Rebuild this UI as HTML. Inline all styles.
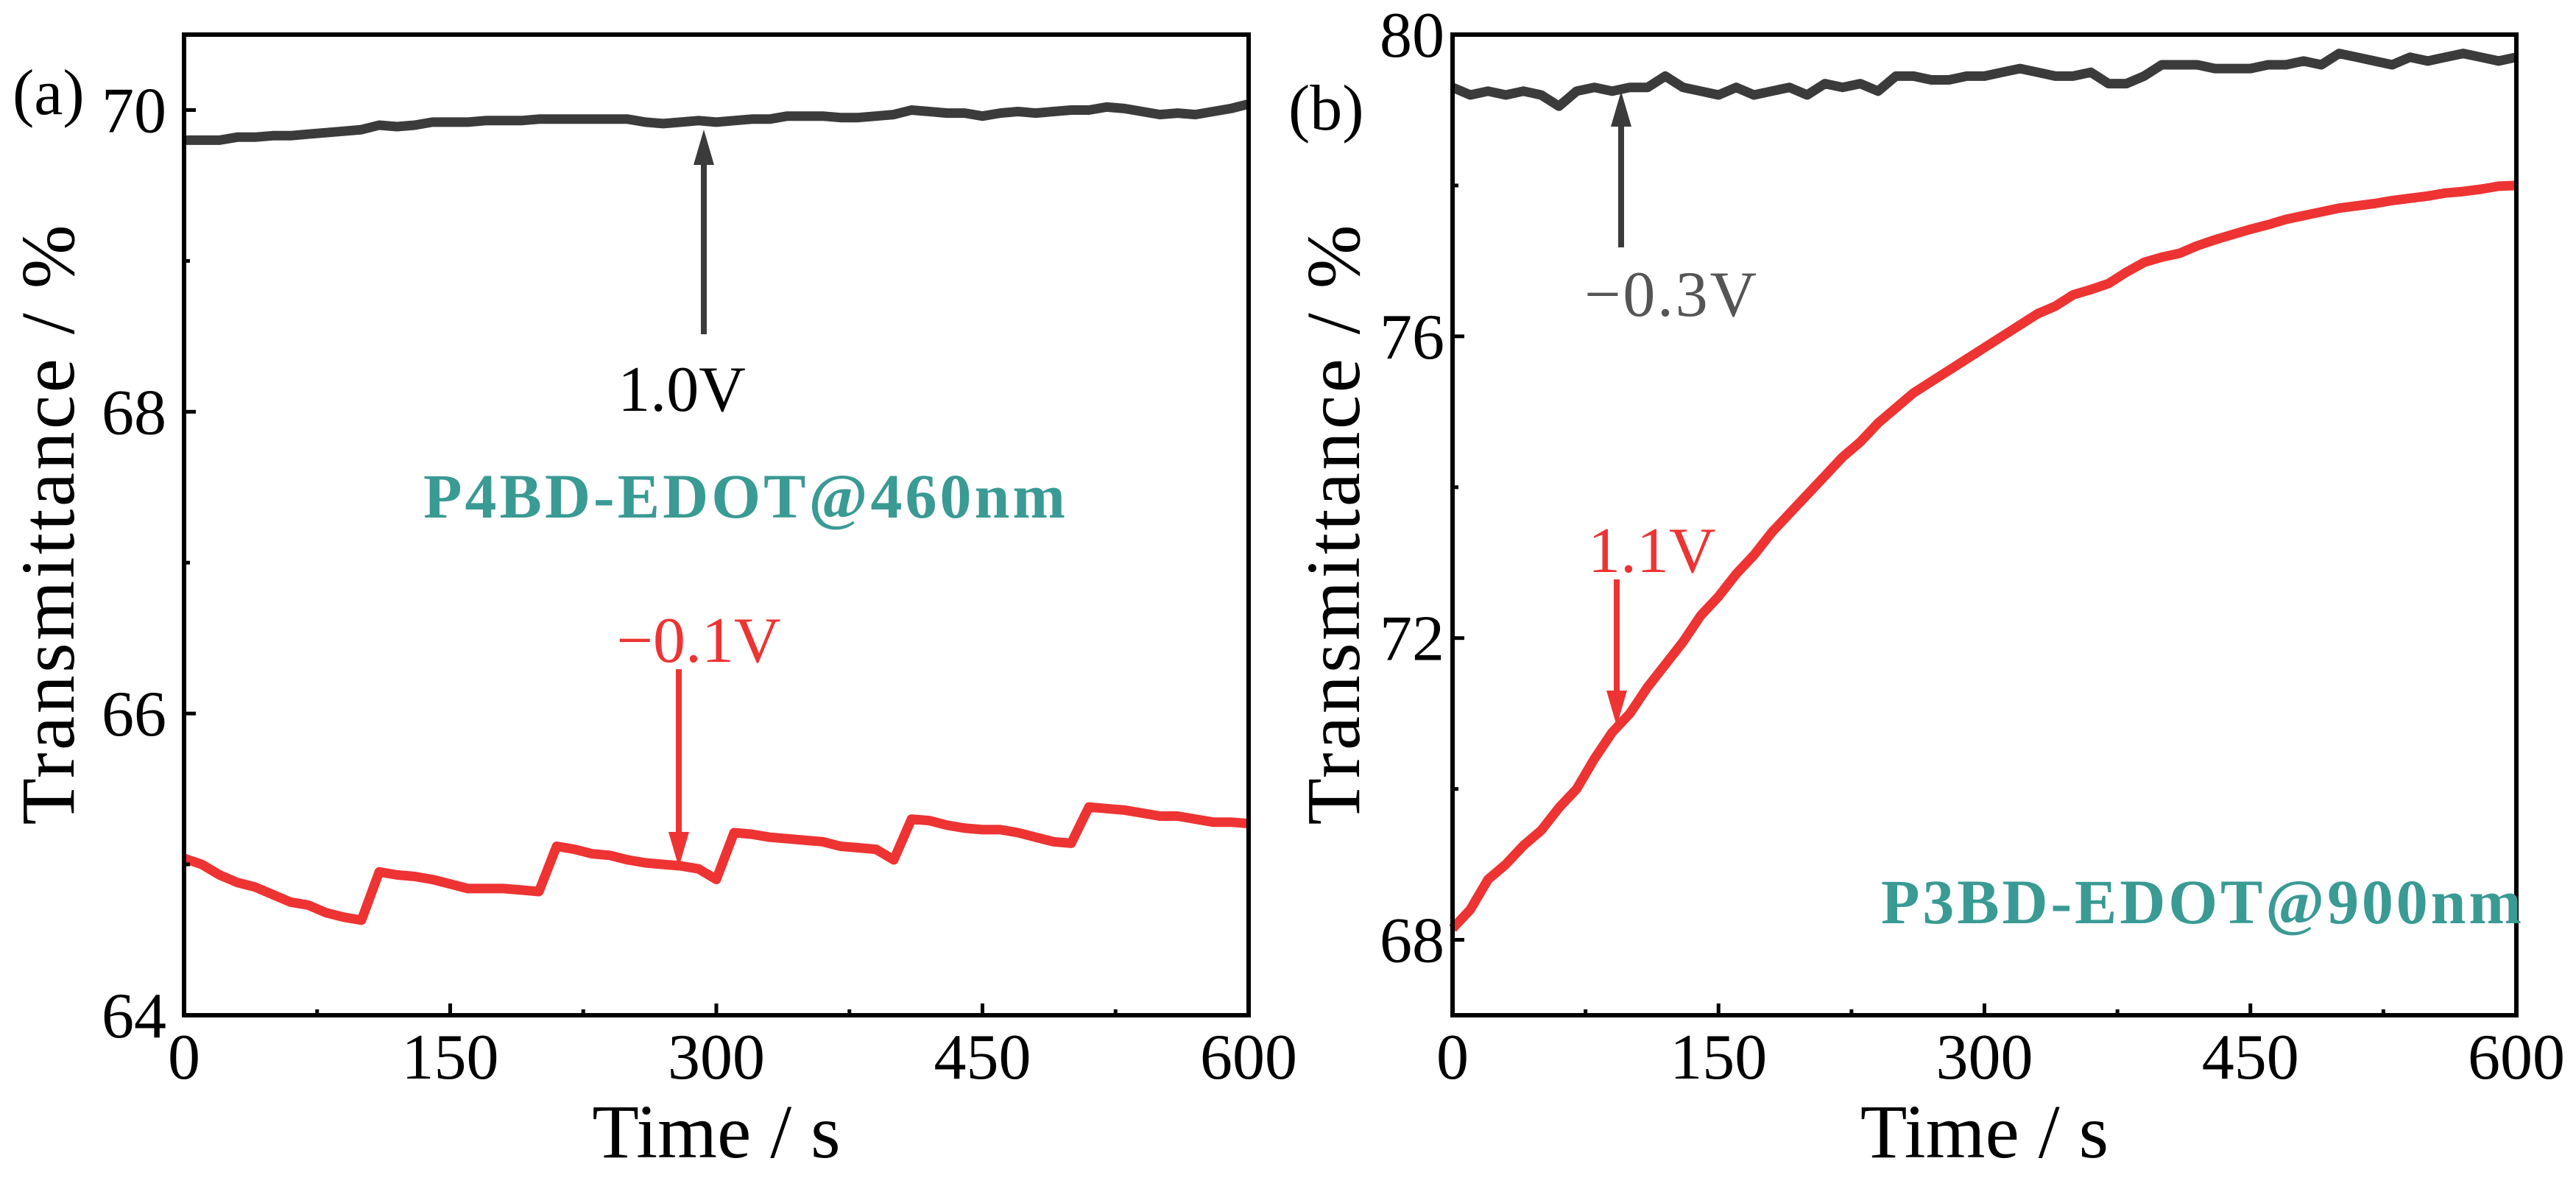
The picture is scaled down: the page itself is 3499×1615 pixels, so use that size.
<!DOCTYPE html>
<html><head><meta charset="utf-8"><style>
html,body{margin:0;padding:0;background:#fff;overflow:hidden}
svg{display:block}
text{font-family:"Liberation Serif",serif}
</style></head><body>
<svg id="chart" width="3499" height="1615" viewBox="0 0 3499 1615" xmlns="http://www.w3.org/2000/svg"></svg>
<script>
const times = [];
for (let t = 0; t <= 600; t += 10) times.push(t);
const xTicks = [0,150,300,450,600];
const aYTicks = [64,66,68,70];
const bYTicks = [68,72,76,80];
const aBlack = [69.8,69.8,69.8,69.82,69.82,69.83,69.83,69.84,69.85,69.86,69.87,69.9,69.89,69.9,69.92,69.92,69.92,69.93,69.93,69.93,69.94,69.94,69.94,69.94,69.94,69.94,69.92,69.91,69.92,69.93,69.92,69.93,69.94,69.94,69.96,69.96,69.96,69.95,69.95,69.96,69.97,70.0,69.99,69.98,69.98,69.96,69.98,69.99,69.98,69.99,70.0,70.0,70.02,70.01,69.99,69.97,69.98,69.97,69.99,70.01,70.04];
const aRed = [65.04,65.0,64.93,64.88,64.85,64.8,64.75,64.73,64.68,64.65,64.63,64.95,64.93,64.92,64.9,64.87,64.84,64.84,64.84,64.83,64.82,65.12,65.1,65.07,65.06,65.03,65.01,65.0,64.99,64.97,64.9,65.21,65.2,65.18,65.17,65.16,65.15,65.12,65.11,65.1,65.03,65.3,65.29,65.26,65.24,65.23,65.23,65.21,65.18,65.15,65.14,65.38,65.37,65.36,65.34,65.32,65.32,65.3,65.28,65.28,65.27];
const bBlack = [79.3,79.2,79.25,79.2,79.25,79.2,79.05,79.25,79.3,79.25,79.3,79.3,79.45,79.3,79.25,79.2,79.3,79.2,79.25,79.3,79.2,79.35,79.3,79.35,79.25,79.45,79.45,79.4,79.4,79.45,79.45,79.5,79.55,79.5,79.45,79.45,79.5,79.35,79.35,79.45,79.6,79.6,79.6,79.55,79.55,79.55,79.6,79.6,79.65,79.6,79.75,79.7,79.65,79.6,79.7,79.65,79.7,79.75,79.7,79.65,79.7];
const bRed = [68.15,68.4,68.8,69.0,69.25,69.45,69.75,70.0,70.4,70.75,71.0,71.35,71.65,71.95,72.3,72.55,72.85,73.1,73.4,73.65,73.9,74.15,74.4,74.6,74.85,75.05,75.25,75.4,75.55,75.7,75.85,76.0,76.15,76.3,76.4,76.55,76.62,76.7,76.85,76.98,77.05,77.1,77.2,77.28,77.35,77.42,77.48,77.55,77.6,77.65,77.7,77.73,77.76,77.8,77.83,77.86,77.9,77.92,77.95,77.99,78.0];

const NS = "http://www.w3.org/2000/svg";
const svg = document.getElementById('chart');
function mk(tag, attrs, parent) {
  const e = document.createElementNS(NS, tag);
  for (const k in attrs) e.setAttribute(k, attrs[k]);
  (parent || svg).appendChild(e);
  return e;
}
function txt(s, attrs, parent) { const e = mk('text', attrs, parent); e.textContent = s; return e; }

function panel(cfg) {
  const g = mk('g', {});
  
  
  const X = v => cfg.L + v / 600 * (cfg.R - cfg.L);
  const Y = v => cfg.B - (v - cfg.ymin) / (cfg.ymax - cfg.ymin) * (cfg.B - cfg.T);
  cfg.series.forEach(s => {
    const d = s.vals.map((v, i) => (i ? 'L' : 'M') + X(times[i]).toFixed(1) + ' ' + Y(v).toFixed(1)).join(' ');
    const p = mk('path', {d: d, fill: 'none', stroke: s.color, 'stroke-width': 13, 'stroke-linejoin': 'round'}, g);
    
    
  });
  const fr = mk('rect', {x: cfg.L, y: cfg.T, width: cfg.R - cfg.L, height: cfg.B - cfg.T, fill: 'none', stroke: '#000', 'stroke-width': 6}, g);
  
  
  for (let v = 0; v <= 600; v += 75) {
    const major = v % 150 === 0;
    mk('line', {x1: X(v), x2: X(v), y1: cfg.B, y2: cfg.B - (major ? 16 : 8), stroke: '#000', 'stroke-width': 5}, g);
  }
  xTicks.forEach(v => {
    const t = txt(String(v), {x: X(v), y: 1465, 'font-size': 88, 'text-anchor': 'middle'}, g);
    
    
  });
  const step = cfg.yTicks[1] - cfg.yTicks[0];
  for (let v = Math.ceil(cfg.ymin); v <= cfg.ymax; v += 1) {
    const major = cfg.yTicks.indexOf(v) >= 0;
    const minor = (v - cfg.yTicks[0]) % step === step / 2;
    if (!major && !minor) continue;
    mk('line', {x1: cfg.L, x2: cfg.L + (major ? 16 : 8), y1: Y(v), y2: Y(v), stroke: '#000', 'stroke-width': 5}, g);
  }
  cfg.yTicks.forEach(v => {
    const t = txt(String(v), {x: cfg.yLabX, y: Y(v) + 30, 'font-size': 88, 'text-anchor': 'end'}, g);
    
    
  });
  const xt = txt('Time / s', {x: (cfg.L + cfg.R) / 2, y: 1572, 'font-size': 104, 'text-anchor': 'middle'}, g);
  
  
  const yt = txt('Transmittance / %', {x: 0, y: 0, 'font-size': 104, 'text-anchor': 'middle', textLength: 815, transform: 'translate(' + cfg.yTitleX + ',713) rotate(-90)'}, g);
  
  
  return {X, Y, g};
}

panel({name: 'panel-a', L: 250, R: 1696, T: 47, B: 1379, ymin: 64, ymax: 70.5, yTicks: aYTicks, yLabX: 226, yTitleX: 100,
  series: [{vals: aBlack, color: '#3b3b3b', name: 'series-1v-black'}, {vals: aRed, color: '#ee3333', name: 'series-neg01v-red'}]});
panel({name: 'panel-b', L: 1973, R: 3418, T: 47, B: 1379, ymin: 67, ymax: 80, yTicks: bYTicks, yLabX: 1962, yTitleX: 1846,
  series: [{vals: bBlack, color: '#3b3b3b', name: 'series-neg03v-black'}, {vals: bRed, color: '#ee3333', name: 'series-11v-red'}]});

function arrow(x, y1, y2, color, name) {
  const g = mk('g', {});
  
  
  const dir = y2 > y1 ? 1 : -1;
  mk('line', {x1: x, x2: x, y1: y1, y2: y2 - dir * 40, stroke: color, 'stroke-width': 8}, g);
  mk('polygon', {points: `${x - 14},${y2 - dir * 48} ${x + 14},${y2 - dir * 48} ${x},${y2}`, fill: color}, g);
}
arrow(956, 454, 176, '#3b3b3b', 'arrow-1v');
arrow(922, 909, 1178, '#ee3333', 'arrow-neg01v');
arrow(2202, 336, 124, '#3b3b3b', 'arrow-neg03v');
arrow(2196, 787, 986, '#ee3333', 'arrow-11v');

function label(s, x, y, attrs, name) {
  const t = txt(s, Object.assign({x: x, y: y}, attrs));
  
  
}
label('1.0V', 926, 558, {'font-size': 88, 'text-anchor': 'middle', fill: '#000'}, 'label-1v');
label('\u22120.1V', 949, 899, {'font-size': 88, 'text-anchor': 'middle', fill: '#ee3333'}, 'label-neg01v');
label('P4BD-EDOT@460nm', 575, 703, {'font-size': 86, 'font-weight': 'bold', fill: '#3a9a94', textLength: 872}, 'sample-label-a');
label('(a)', 17, 155, {'font-size': 88}, 'panel-a-label');
label('\u22120.3V', 2152, 429, {'font-size': 88, fill: '#555555', textLength: 234}, 'label-neg03v');
label('1.1V', 2157, 777, {'font-size': 88, fill: '#ee3333'}, 'label-11v');
label('P3BD-EDOT@900nm', 2555, 1254, {'font-size': 86, 'font-weight': 'bold', fill: '#3a9a94', textLength: 870}, 'sample-label-b');
label('(b)', 1750, 176, {'font-size': 88}, 'panel-b-label');
</script>
</body></html>
